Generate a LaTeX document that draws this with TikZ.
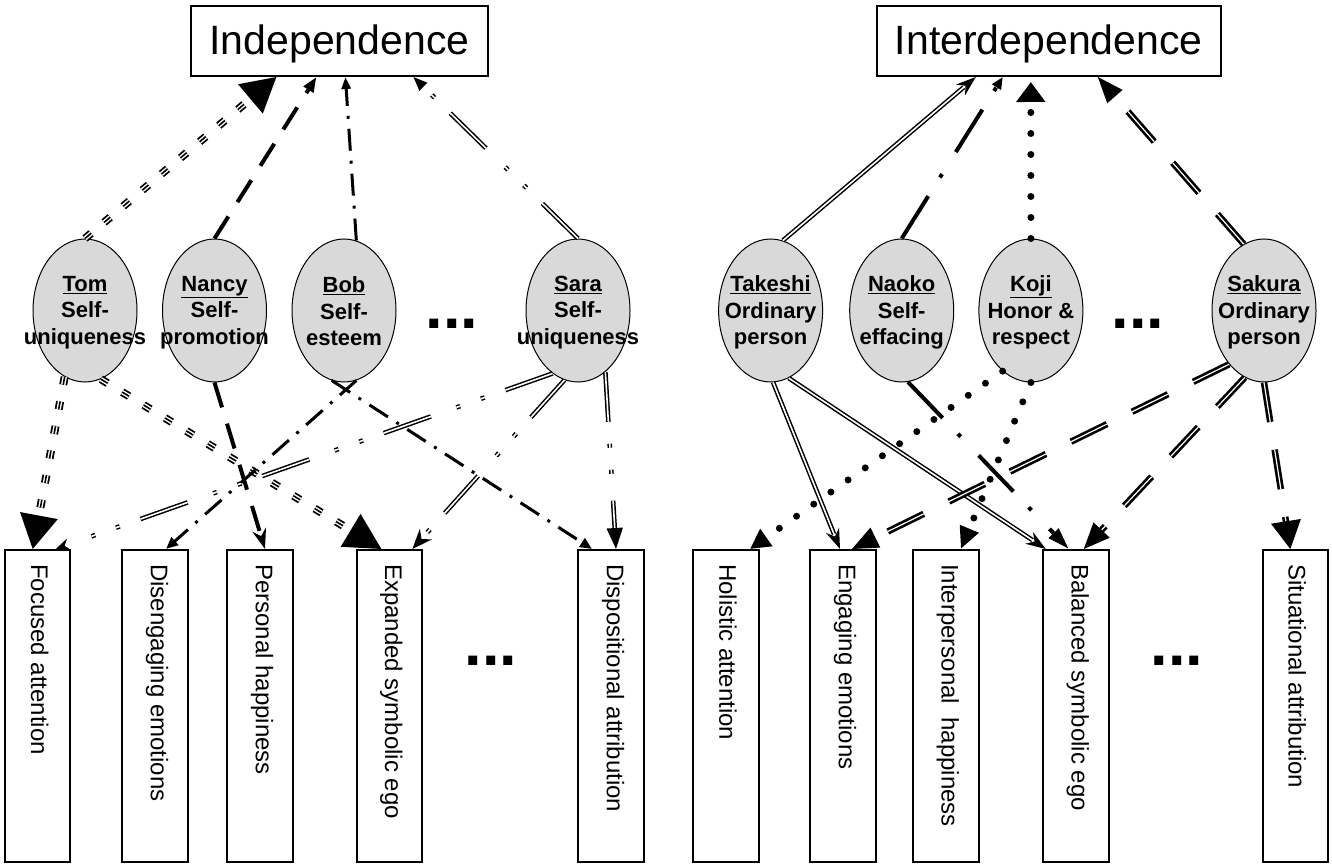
\documentclass[tikz,border=0pt]{standalone}
\usepackage{fontspec}
\setmainfont{Liberation Sans}
\usetikzlibrary{shapes.geometric,arrows.meta}
\begin{document}
\begin{tikzpicture}[x=1pt,y=-1pt,
  topbox/.style={draw=black,line width=2pt,minimum height=70pt,inner sep=0pt,text height=30pt,text depth=3pt,font=\fontsize{41}{49}\selectfont},
  pers/.style={ellipse,draw=black,line width=1pt,fill=gray!30,minimum width=104pt,minimum height=143pt,inner sep=0pt},
  perstext/.style={align=center,inner sep=0pt,font=\fontsize{22}{26.5}\selectfont\bfseries},
  outbox/.style={draw=black,line width=2pt,minimum width=65.5pt,minimum height=312pt,inner sep=0pt},
  outtext/.style={rotate=-90,anchor=west,inner sep=0pt,font=\fontsize{24}{28}\selectfont},
  dotrow/.style={anchor=base,inner sep=0pt,font=\fontsize{63}{63}\selectfont\bfseries},
  tomdash/.style={dash pattern=on 8pt off 17pt},
  tomln/.style={preaction={draw=black,-,line width=8pt,tomdash,shorten >=#1},
                preaction={draw=white,-,line width=4.4pt,tomdash,shorten >=#1},
                draw=black,line width=1.6pt,tomdash},
  nancyln/.style={draw=black,line width=4pt,dash pattern=on 26pt off 17pt},
  bobln/.style={draw=black,line width=3pt,dash pattern=on 22pt off 10pt on 3pt off 10pt},
  saradash/.style={dash pattern=on 50pt off 22pt on 4pt off 22pt on 4pt off 27pt},
  saraln/.style={preaction={draw=black,-,line width=4.6pt,saradash,shorten >=#1},
                 draw=white,line width=1.6pt,saradash},
  takln/.style={preaction={draw=black,-,line width=4.6pt,shorten >=#1},
                draw=white,line width=1.6pt},
  naoln/.style={draw=black,line width=4pt,dash pattern=on 50pt off 22pt on 4pt off 26pt},
  kojiln/.style={draw=black,line width=7pt,line cap=round,dash pattern=on 0pt off 21pt},
  sakdash/.style={dash pattern=on 40pt off 28pt},
  sakln/.style={preaction={draw=black,-,line width=6.5pt,sakdash,shorten >=#1},
                draw=white,line width=1.2pt,sakdash}
]
\useasboundingbox (0,0) rectangle (1332,866);

% top boxes
\node[topbox,minimum width=296.7pt] (indep) at (339.4,41) {Independence};
\node[topbox,minimum width=344pt] (inter) at (1048.8,41) {Interdependence};

% persons
\node[pers] (tom)   at (85,310.5) {};
\node[pers] (nancy) at (214.5,310.5) {};
\node[pers] (bob)   at (344,310.5) {};
\node[pers] (sara)  at (578,310.5) {};
\node[pers] (tak)   at (770.6,310.5) {};
\node[pers] (nao)   at (901.7,310.5) {};
\node[pers] (koji)  at (1030.9,310.5) {};
\node[pers] (sak)   at (1264,310.5) {};

\node[perstext] (tomt)   at ([yshift=-2pt]tom.center)   {\underline{Tom}\\Self-\\uniqueness};
\node[perstext] (nancyt) at ([yshift=-2pt]nancy.center) {\underline{Nancy}\\Self-\\promotion};
\node[perstext] (bobt)   at ([yshift=-1pt]bob.center)   {\underline{Bob}\\Self-\\esteem};
\node[perstext] (sarat)  at ([yshift=-2pt]sara.center)  {\underline{Sara}\\Self-\\uniqueness};
\node[perstext] (takt)   at ([yshift=-2pt]tak.center)   {\underline{Takeshi}\\Ordinary\\person};
\node[perstext] (naot)   at ([yshift=-2pt]nao.center)   {\underline{Naoko}\\Self-\\effacing};
\node[perstext] (kojit)  at ([yshift=-2pt]koji.center)  {\underline{Koji}\\Honor \&\\respect};
\node[perstext] (sakt)   at ([yshift=-2pt]sak.center)   {\underline{Sakura}\\Ordinary\\person};

\node[dotrow] (dotsA) at (452,328) {...};
\node[dotrow] (dotsB) at (1138,328) {...};

% outcome boxes
\node[outbox] (focus)  at (37.7,706) {};
\node[outbox] (diseng) at (155,706) {};
\node[outbox] (happy)  at (260,706) {};
\node[outbox] (expand) at (389.4,706) {};
\node[outbox] (dispo)  at (611,706) {};
\node[outbox] (holist) at (726,706) {};
\node[outbox] (engage) at (843,706) {};
\node[outbox] (interp) at (945.8,706) {};
\node[outbox] (bal)    at (1075.8,706) {};
\node[outbox] (situ)   at (1295.3,706) {};

\node[outtext] (focust)  at ([xshift=2pt,yshift=-15pt]focus.north)  {Focused attention};
\node[outtext] (disengt) at ([xshift=2pt,yshift=-15pt]diseng.north) {Disengaging emotions};
\node[outtext] (happyt)  at ([xshift=2pt,yshift=-15pt]happy.north)  {Personal happiness};
\node[outtext] (expandt) at ([xshift=2pt,yshift=-15pt]expand.north) {Expanded symbolic ego};
\node[outtext] (dispot)  at ([xshift=2pt,yshift=-15pt]dispo.north)  {Dispositional attribution};
\node[outtext] (holistt) at ([xshift=2pt,yshift=-15pt]holist.north) {Holistic attention};
\node[outtext] (engaget) at ([xshift=2pt,yshift=-15pt]engage.north) {Engaging emotions};
\node[outtext] (interpt) at ([xshift=2pt,yshift=-15pt]interp.north) {Interpersonal\ \ happiness};
\node[outtext] (balt)    at ([xshift=2pt,yshift=-15pt]bal.north)    {Balanced symbolic ego};
\node[outtext] (situt)   at ([xshift=2pt,yshift=-15pt]situ.north)   {Situational attribution};

\node[dotrow] (dotsC) at (491,665) {...};
\node[dotrow] (dotsD) at (1177,665) {...};

% ---- Independence side ----
\draw[tomln=30pt,-{Triangle[length=34pt,width=38pt,color=black]}] (tom.north) -- ([xshift=-63pt]indep.south);
\draw[nancyln,-{Triangle[length=15pt,width=11pt]}] (nancy.north) -- ([xshift=-23pt]indep.south);
\draw[bobln,-{Triangle[length=12pt,width=9pt]}] (bob.80) -- ([xshift=6pt]indep.south);
\draw[saraln=11pt,-{Triangle[length=14pt,width=11pt,color=black]}] (sara.north) -- ([xshift=74pt]indep.south);

\draw[tomln=30pt,-{Triangle[length=34pt,width=38pt,color=black]}] (tom.-107) -- ([xshift=-5pt]focus.north);
\draw[tomln=30pt,-{Triangle[length=36pt,width=38pt,color=black]}] (tom.-77) -- ([xshift=-8pt]expand.north);
\draw[nancyln,-{Stealth[length=20pt,width=14pt]}] (nancy.south) -- ([xshift=5pt]happy.north);
\draw[bobln,-{Triangle[length=12pt,width=10pt]}] (bob.-80) -- ([xshift=11pt]diseng.north);
\draw[bobln,-{Triangle[length=12pt,width=10pt]}] (bob.-100) -- ([xshift=-19pt]dispo.north);
\draw[saraln=11pt,-{Stealth[length=14pt,width=12pt,color=black]}] (sara.-112) -- ([xshift=18pt]focus.north);
\draw[saraln=16pt,-{Stealth[length=20pt,width=16pt,color=black]}] (sara.-101) -- ([xshift=23pt]expand.north);
\draw[saraln=18pt,-{Triangle[length=21pt,width=16pt,color=black]}] (sara.-66) -- ([xshift=5pt]dispo.north);

% ---- Interdependence side ----
\draw[takln=16pt,-{Stealth[length=20pt,width=14pt,color=black]}] (tak.80) -- ([xshift=-73pt]inter.south);
\draw[naoln,-{Triangle[length=12pt,width=10pt]}] (nao.north) -- ([xshift=-46pt]inter.south);
\draw[kojiln,-{Triangle[length=20pt,width=28pt]}] (koji.north) -- ([xshift=-18pt,yshift=-5pt]inter.south);
\draw[sakln=22pt,-{Triangle[length=26pt,width=20pt,color=black]}] (sak.107) -- ([xshift=49pt]inter.south);

\draw[takln=16pt,-{Stealth[length=20pt,width=14pt,color=black]}] (tak.-88) -- ([xshift=-3pt]engage.north);
\draw[takln=16pt,-{Stealth[length=20pt,width=14pt,color=black]}] (tak.-75) -- ([xshift=-30pt]bal.north);
\draw[naoln,-{Triangle[length=22pt,width=13pt]}] (nao.-85) -- ([xshift=-7pt]bal.north);
\draw[kojiln,-{Triangle[length=20pt,width=20pt]}] (koji.-115) -- ([xshift=24pt]holist.north);
\draw[kojiln,-{Triangle[length=22pt,width=19pt]}] (koji.south) -- ([xshift=15pt]interp.north);
\draw[sakln=22pt,-{Triangle[length=26pt,width=22pt,color=black]}] (sak.-123) -- ([xshift=9pt]engage.north);
\draw[sakln=22pt,-{Triangle[length=26pt,width=22pt,color=black]}] (sak.-106) -- ([xshift=8pt]bal.north);
\draw[sakln=24pt,-{Triangle[length=28pt,width=30pt,color=black]}] (sak.south) -- ([xshift=-5pt]situ.north);
\end{tikzpicture}
\end{document}
